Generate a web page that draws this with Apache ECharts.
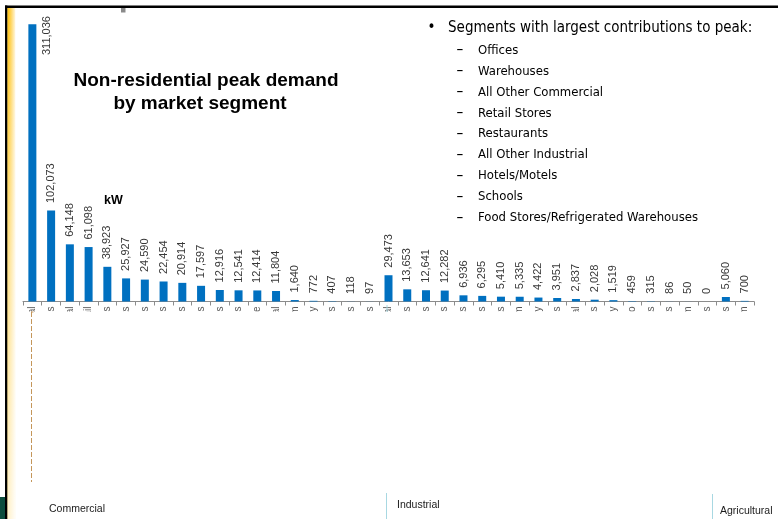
<!DOCTYPE html>
<html>
<head>
<meta charset="utf-8">
<script src="https://cdn.jsdelivr.net/npm/echarts@6/dist/echarts.min.js"></script>
<style>
html,body{margin:0;padding:0;background:#fff;}
#chart{width:778px;height:519px;}
</style>
</head>
<body>
<div id="chart"></div>
<script>
// ---- data ----
const categories = [
  'All Other Commercial','Offices','Hospital','Retail','Warehouses','Restaurants','Hotels/Motels',
  'Schools','Food Stores','Refrigerated Warehouses','Colleges','Health Clinics','Auto Service',
  'Community/Municipal','Auditorium','Laundry','Movie Theaters','Amusement Parks','Religious Buildings',
  'All Other Industrial','Food Products','Chemicals','Plastics','Metal Products','Electronics',
  'Paper Products','Petroleum','Machinery','Textiles','Primary Metal','Lumber/Wood Products',
  'Apparel Assembly','Leather/Tobacco','Instruments','Rubber Products','Aluminum','Misc Manufacturing Operations',
  'Irrigation Pumps','Dairy Farm'
];
const peakKW = [
  311036, 102073, 64148, 61098, 38923, 25927, 24590, 22454, 20914, 17597, 12916, 12541, 12414, 11804,
  1640, 772, 407, 118, 97,
  29473, 13653, 12641, 12282, 6936, 6295, 5410, 5335, 4422, 3951, 2837, 2028, 1519, 459, 315, 86, 50, 0,
  5060, 700
];
const groupNames = ['Commercial', 'Industrial', 'Agricultural'];
const titleLines = ['Non-residential peak demand', 'by market segment'];
const unitLabel = 'kW';
const bulletHeading = 'Segments with largest contributions to peak:';
const bulletItems = [
  'Offices', 'Warehouses', 'All Other Commercial', 'Retail Stores', 'Restaurants',
  'All Other Industrial', 'Hotels/Motels', 'Schools', 'Food Stores/Refrigerated Warehouses'
];

// ---- chart ----
const chart = echarts.init(document.getElementById('chart'), null, {renderer: 'canvas'});
const fmt = v => v.toLocaleString('en-US');

const seriesData = peakKW.map((v, i) => {
  if (i === 0) {
    return {value: v, label: {position: [18.7, 30.7], align: 'left', verticalAlign: 'middle'}};
  }
  return v;
});

const graphics = [];
// gold strip
graphics.push({type: 'rect', z: 49, shape: {x: 7.3, y: 8, width: 8, height: 511},
  style: {fill: new echarts.graphic.LinearGradient(0, 0, 1, 0, [
    {offset: 0, color: '#ffbf00'}, {offset: 0.45, color: '#ffd45a'}, {offset: 1, color: '#fff6dc'}])}});
graphics.push({type: 'rect', z: 49, shape: {x: 7.3, y: 8, width: 8, height: 511},
  style: {fill: new echarts.graphic.LinearGradient(0, 0, 0, 1, [
    {offset: 0, color: 'rgba(255,255,255,0)'}, {offset: 0.5, color: 'rgba(255,255,255,0.5)'},
    {offset: 1, color: 'rgba(255,255,255,0.8)'}])}});
// frame
graphics.push({type: 'rect', z: 50, shape: {x: 5, y: 5.5, width: 773, height: 2.5}, style: {fill: '#000'}});
graphics.push({type: 'rect', z: 50, shape: {x: 5, y: 5.5, width: 2.3, height: 514}, style: {fill: '#000'}});
graphics.push({type: 'rect', z: 50, shape: {x: 0, y: 497, width: 5, height: 22}, style: {fill: '#0c4d3d'}});
graphics.push({type: 'rect', z: 50, shape: {x: 121, y: 8, width: 4.5, height: 4.5}, style: {fill: '#8a8a8a'}});
// cover for clipped category labels
graphics.push({type: 'rect', z: 40, shape: {x: 15.5, y: 311.5, width: 763, height: 208}, style: {fill: '#fff'}});
// dashed line
graphics.push({type: 'line', z: 41, shape: {x1: 31.5, y1: 312, x2: 31.5, y2: 482},
  style: {stroke: '#c4965a', lineWidth: 1, lineDash: [5, 2]}});
graphics.push({type: 'line', z: 41, shape: {x1: 31, y1: 312, x2: 33.5, y2: 312},
  style: {stroke: '#c4965a', lineWidth: 1}});
// group separators
graphics.push({type: 'line', z: 41, shape: {x1: 387, y1: 305, x2: 387, y2: 312}, style: {stroke: '#a8d8e2', lineWidth: 1}});
graphics.push({type: 'line', z: 41, shape: {x1: 386.5, y1: 493, x2: 386.5, y2: 519}, style: {stroke: '#a8d8e2', lineWidth: 1}});
graphics.push({type: 'line', z: 41, shape: {x1: 712.5, y1: 494, x2: 712.5, y2: 519}, style: {stroke: '#a8d8e2', lineWidth: 1}});
// group labels
const groupPos = [[49, 509], [397, 505], [720, 511]];
groupNames.forEach((g, i) => graphics.push({type: 'text', z: 42, x: groupPos[i][0], y: groupPos[i][1],
  style: {text: g, fill: '#1a1a1a', font: '10.5px "Liberation Sans", Arial, sans-serif', textAlign: 'left', textVerticalAlign: 'middle'}}));
// title
const titlePos = [[206, 80.5], [200, 103.5]];
titleLines.forEach((t, i) => graphics.push({type: 'text', z: 42, x: titlePos[i][0], y: titlePos[i][1],
  style: {text: t, fill: '#000', font: 'bold 19px "Liberation Sans", Arial, sans-serif', textAlign: 'center', textVerticalAlign: 'middle'}}));
// unit
graphics.push({type: 'text', z: 42, x: 104, y: 200.5,
  style: {text: unitLabel, fill: '#000', font: 'bold 12.5px "Liberation Sans", Arial, sans-serif', textAlign: 'left', textVerticalAlign: 'middle'}});
// bullets
const listFont = '"DejaVu Sans Condensed", "Liberation Sans", sans-serif';
graphics.push({type: 'text', z: 42, x: 431.5, y: 28.5,
  style: {text: '\u2022', fill: '#000', font: '15px ' + listFont, textAlign: 'center', textVerticalAlign: 'middle'}});
graphics.push({type: 'text', z: 42, x: 448, y: 28,
  style: {text: bulletHeading, fill: '#000', font: '15px ' + listFont, textAlign: 'left', textVerticalAlign: 'middle'}});
bulletItems.forEach((t, i) => {
  const y = 50.5 + i * 20.9;
  graphics.push({type: 'text', z: 42, x: 456.5, y: y,
    style: {text: '\u2013', fill: '#000', font: '15px ' + listFont, textAlign: 'left', textVerticalAlign: 'middle'}});
  graphics.push({type: 'text', z: 42, x: 478, y: y,
    style: {text: t, fill: '#000', font: '13px ' + listFont, textAlign: 'left', textVerticalAlign: 'middle'}});
});

chart.setOption({
  animation: false,
  backgroundColor: '#fff',
  grid: {left: 23, right: 24, top: 24.3, bottom: 217.5, containLabel: false},
  xAxis: {
    type: 'category',
    data: categories,
    axisLine: {show: true, lineStyle: {color: '#8c8c8c', width: 1}},
    axisTick: {show: true, interval: 0, length: 4, lineStyle: {color: '#8c8c8c'}},
    axisLabel: {interval: 0, rotate: 90, margin: 5, fontSize: 10, color: '#595959',
      fontFamily: '"Liberation Sans", Arial, sans-serif'}
  },
  yAxis: {type: 'value', min: 0, max: Math.max(...peakKW), show: false, splitLine: {show: false}},
  series: [{
    type: 'bar',
    data: seriesData,
    barWidth: 8,
    itemStyle: {color: '#0070C0'},
    label: {
      show: true, position: 'top', distance: 7.5, rotate: 90, align: 'left', verticalAlign: 'middle',
      fontSize: 11, color: '#383838', fontFamily: '"Liberation Sans", Arial, sans-serif',
      formatter: p => fmt(p.value)
    }
  }],
  graphic: {elements: graphics}
});
</script>
</body>
</html>
